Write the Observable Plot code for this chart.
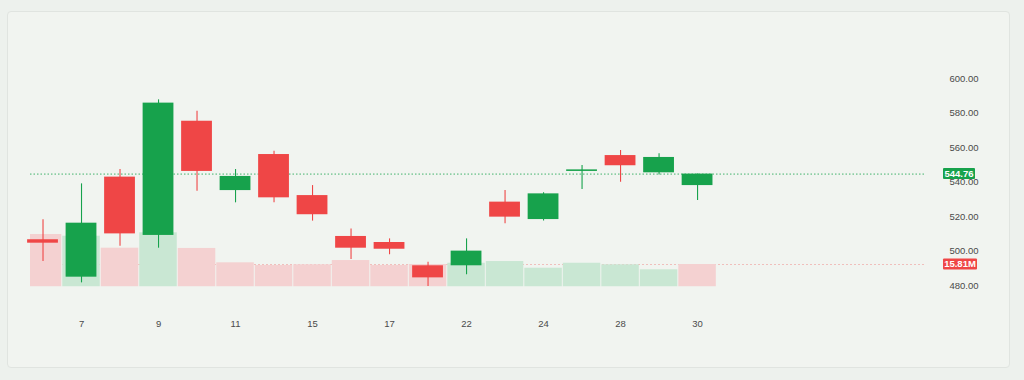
<!DOCTYPE html>
<html><head><meta charset="utf-8">
<script src="https://cdn.jsdelivr.net/npm/d3@7"></script>
<script src="https://cdn.jsdelivr.net/npm/@observablehq/plot@0.6"></script>
<style>
html,body{margin:0;padding:0;background:#edf1ed;}
#wrap{position:relative;width:1024px;height:380px;overflow:hidden;font-family:"Liberation Sans",Arial,sans-serif;}
#panel{position:absolute;left:7px;top:11px;width:1001px;height:355px;border:1px solid #e0e4e0;border-radius:4px;background:#f1f4f0;}
#wrap svg{position:absolute;left:0;top:0;}
</style></head><body>
<div id="wrap"><div id="panel"></div></div>
<script>
// ---- data ----
const days    = ["6","7","8","9","10","11","14","15","16","17","18","22","23","24","25","28","29","30"];
const tickDays = ["7","9","11","15","17","22","24","28","30"];
const opens   = [506.7,485.0,543.0,509.2,575.4,535.2,556.1,532.3,508.6,505.1,491.6,491.6,528.5,518.4,546.3,555.5,545.5,538.1];
const highs   = [518.3,539.1,547.4,587.8,581.2,547.4,558.0,538.1,513.0,507.2,493.7,507.2,535.2,533.9,549.7,558.4,556.5,544.76];
const lows    = [494.1,481.7,503.0,501.8,534.8,528.1,528.1,517.5,495.2,498.0,479.6,486.4,515.9,517.5,535.8,540.1,544.3,529.4];
const closes  = [504.7,516.3,510.1,585.9,546.3,543.4,531.0,521.2,501.8,501.2,484.6,500.1,519.8,533.3,547.2,549.6,554.4,544.76];
const volumes = [36.9,35.7,27.3,38.1,27.1,17.0,15.1,15.6,18.6,15.1,15.8,16.7,17.9,13.2,16.7,15.6,12.1,15.81]; // millions
const yTicks  = [480,500,520,540,560,580,600];

// ---- derived table ----
const candles = days.map((d,i)=>({
  i, day:d, open:opens[i], high:highs[i], low:lows[i], close:closes[i], volume:volumes[i],
  volUp: i === 0 ? closes[i] >= opens[i] : closes[i] >= closes[i-1]
}));
const last = candles[candles.length-1];
const tickIdx = tickDays.map(t => days.indexOf(t));

const RED = "#ef4646", GREEN = "#17a24c";
const VRED = "#f4d1d1", VGREEN = "#c9e7d3";
const FONT = "'Liberation Sans', Arial, sans-serif";
const xScale = {type:"linear", domain:[-0.325, 22.92]};

function tag(value, text, fill, w) {
  return (index, scales, values, dim) => {
    const y = scales.y(value);
    const x0 = dim.width - dim.marginRight + 18;
    const g = d3.create("svg:g");
    g.append("rect").attr("x", x0).attr("y", y - 5.5).attr("width", w).attr("height", 11)
      .attr("rx", 1).attr("fill", fill);
    g.append("text").attr("x", x0 + w/2).attr("y", y).attr("dy", "0.36em")
      .attr("text-anchor", "middle").attr("fill", "white").attr("font-size", 9.5)
      .attr("font-weight", "bold").attr("font-family", FONT).text(text);
    return g.node();
  };
}

// ---- volume layer ----
const vol = Plot.plot({
  width:1024, height:380,
  marginLeft:30, marginRight:99, marginTop:229.6, marginBottom:93.5,
  style:{background:"transparent", fontFamily:FONT},
  x:{...xScale, axis:null, label:null},
  y:{domain:[0,40], axis:null, label:null},
  color:{type:"identity"},
  marks:[
    Plot.ruleY([last.volume], {stroke:RED, strokeOpacity:0.3, strokeDasharray:"2,2"}),
    Plot.rectY(candles, {x1:d=>d.i-0.5, x2:d=>d.i+0.5, y:"volume", fill:d=>d.volUp?VGREEN:VRED,
      insetLeft:0.5, insetRight:0.5, clip:true}),
    tag(last.volume, last.volume.toFixed(2)+"M", RED, 34)
  ]
});

// ---- price layer ----
const price = Plot.plot({
  width:1024, height:380,
  marginLeft:30, marginRight:99, marginTop:78.3, marginBottom:94.7,
  style:{background:"transparent", fontFamily:FONT, fontSize:"9.5px", color:"#4a4a4a"},
  x:{...xScale, label:null},
  y:{domain:[480,600], label:null},
  color:{type:"identity"},
  marks:[
    Plot.ruleY([last.close], {stroke:GREEN, strokeOpacity:0.8, strokeDasharray:"1.5,2"}),
    Plot.ruleX(candles, {x:"i", y1:"low", y2:"high", stroke:d=>d.close>=d.open?GREEN:RED, strokeWidth:1.1}),
    Plot.rect(candles, {x1:d=>d.i-0.4, x2:d=>d.i+0.4, y1:"open", y2:"close",
      fill:d=>d.close>=d.open?GREEN:RED}),
    Plot.axisY({anchor:"right", ticks:yTicks, tickFormat:d=>d.toFixed(2), tickSize:0, tickPadding:24, label:null}),
    Plot.axisX({ticks:tickIdx, tickFormat:i=>days[i], tickSize:0, tickPadding:34, label:null}),
    tag(last.close, last.close.toFixed(2), GREEN, 32)
  ]
});

const wrap = document.getElementById("wrap");
wrap.appendChild(vol);
wrap.appendChild(price);
</script>
</body></html>
